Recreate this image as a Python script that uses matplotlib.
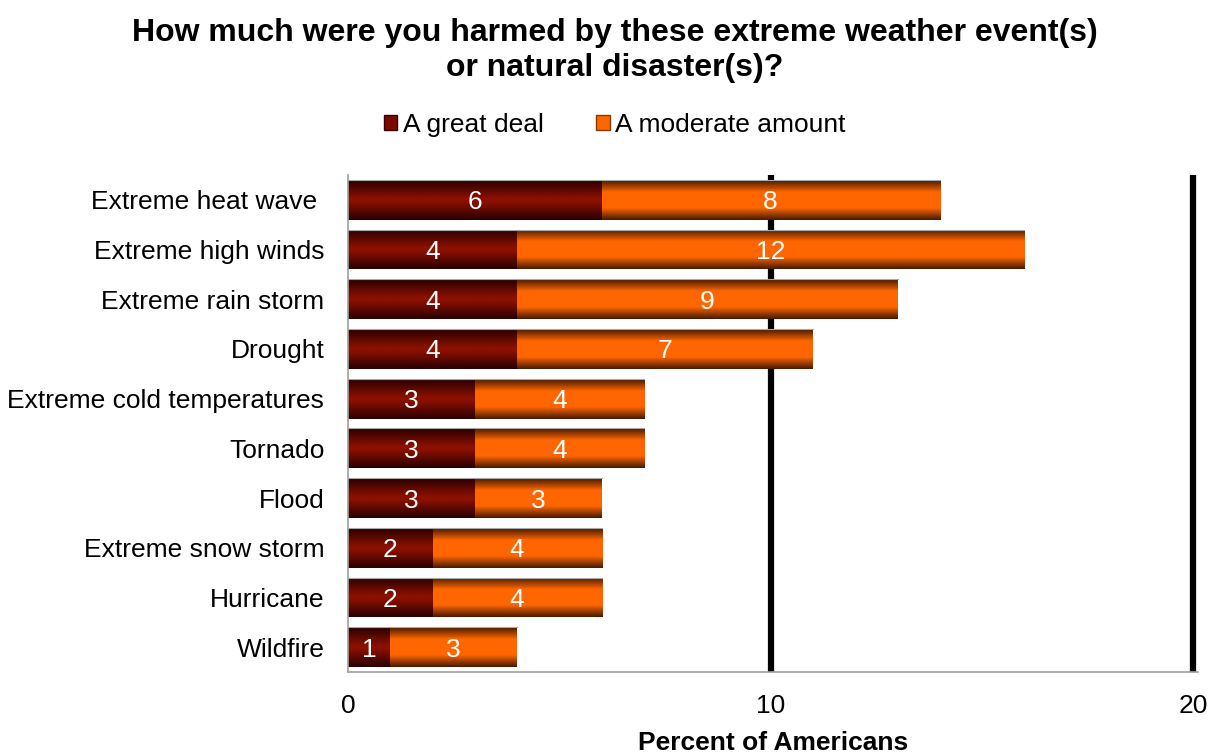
import matplotlib
matplotlib.use("Agg")
import matplotlib.pyplot as plt
import numpy as np
from matplotlib.colors import LinearSegmentedColormap
from matplotlib.patches import Patch

categories = ["Extreme heat wave ", "Extreme high winds", "Extreme rain storm", "Drought",
              "Extreme cold temperatures", "Tornado", "Flood", "Extreme snow storm",
              "Hurricane", "Wildfire"]
great_deal = [6, 4, 4, 4, 3, 3, 3, 2, 2, 1]
moderate = [8, 12, 9, 7, 4, 4, 3, 4, 4, 3]
series_names = ["A great deal", "A moderate amount"]
x_ticks = [0, 10, 20]
title = "How much were you harmed by these extreme weather event(s)\nor natural disaster(s)?"
xlabel = "Percent of Americans"

plt.rcParams['font.family'] = ['Liberation Sans', 'DejaVu Sans']

fig = plt.figure(figsize=(12.15, 7.55), dpi=100)
ax = fig.add_axes([0.2864, 0.1099, 0.6993, 0.6583])

y = np.arange(len(categories))
b1 = ax.barh(y, great_deal, height=0.8, color='none', edgecolor='none', zorder=3)
b2 = ax.barh(y, moderate, left=great_deal, height=0.8, color='none', edgecolor='none', zorder=3)

cmap_red = LinearSegmentedColormap.from_list('r', [(0, '#2a0000'), (0.45, '#8a1000'), (0.55, '#8a1000'), (1, '#2a0000')])
cmap_org = LinearSegmentedColormap.from_list('o', [(0, '#4a1a00'), (0.3, '#ff6600'), (0.7, '#ff6600'), (1, '#4a1a00')])
grad = np.linspace(0, 1, 64).reshape(-1, 1)

for bars, cm in ((b1, cmap_red), (b2, cmap_org)):
    for p in bars:
        x0, yb = p.get_x(), p.get_y()
        w, h = p.get_width(), p.get_height()
        im = ax.imshow(grad, cmap=cm, aspect='auto', extent=(x0, x0 + w, yb, yb + h),
                       origin='lower', zorder=2, interpolation='bilinear')
        im.set_clip_path(p)
        ax.plot([x0, x0 + w], [yb, yb], color='#a8a8a8', linewidth=0.8, zorder=3)

for bars, vals in ((b1, great_deal), (b2, moderate)):
    for p, v in zip(bars, vals):
        ax.text(p.get_x() + p.get_width() / 2, p.get_y() + p.get_height() / 2, str(v),
                ha='center', va='center_baseline', color='white', fontsize=19, zorder=4)

ax.set_xlim(0, 20.1)
ax.set_ylim(len(categories) - 0.5, -0.5)
ax.set_yticks(y)
ax.set_yticklabels(categories, fontsize=19)
ax.set_xticks(x_ticks)
ax.set_xticklabels([str(t) for t in x_ticks], fontsize=19)
ax.tick_params(axis='both', length=0)
ax.tick_params(axis='x', pad=16)
ax.tick_params(axis='y', pad=17)

for t in x_ticks[1:]:
    ax.axvline(t, color='black', linewidth=4.5, zorder=1)

for s in ['top', 'right']:
    ax.spines[s].set_visible(False)
for s in ['left', 'bottom']:
    ax.spines[s].set_color('#a0a0a0')
    ax.spines[s].set_linewidth(1.2)

ax.set_xlabel(xlabel, fontsize=19, fontweight='bold', labelpad=9)

fig.text(0.506, 0.933, title, ha='center', va='center', fontsize=23, fontweight='bold', linespacing=1.2)

handles = [Patch(facecolor='#7a0a00', edgecolor='#3a0000'), Patch(facecolor='#ff6600', edgecolor='#8a3a00')]
fig.legend(handles, series_names, loc='center', bbox_to_anchor=(0.506, 0.834), ncol=2, frameon=False,
           fontsize=19, handlelength=0.5, handleheight=0.5, handletextpad=0.2, columnspacing=2.0)

fig.savefig('out.png', dpi=100)
